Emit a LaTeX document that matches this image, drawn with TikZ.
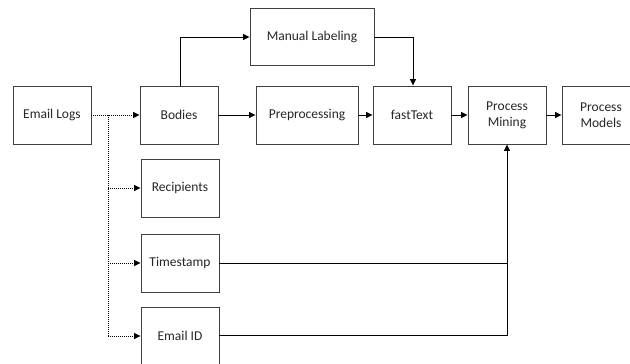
\documentclass[tikz,border=0pt]{standalone}
\usepackage{fontspec}
\setmainfont{Carlito}
\usetikzlibrary{arrows.meta}
\begin{document}
\begin{tikzpicture}[x=1pt,y=-1pt,
  box/.style={draw=black!75, line width=0.9pt, minimum width=78pt, minimum height=58pt, inner sep=1pt, align=center, font=\fontsize{13.5}{16}\selectfont, text=black!85},
  conn/.style={line width=0.9pt, -{Triangle[length=6.5pt,width=6pt]}},
  dotconn/.style={conn, dash pattern=on 1pt off 1pt},
  plain/.style={line width=0.9pt}]
\useasboundingbox (0,0) rectangle (630,364);
\begin{scope}
\clip (0,0) rectangle (630,364);
\node[box] (logs) at (52,115) {Email Logs};
\node[box] (bodies) at (179,115) {Bodies};
\node[box, minimum width=124pt, minimum height=57pt] (manual) at (312,37) {Manual Labeling};
\node[box, minimum width=102pt] (pre) at (307,115) {Preprocessing};
\node[box] (fast) at (412,115) {fastText};
\node[box] (mining) at (507,115) {Process\\Mining};
\node[box] (models) at (601,115) {Process\\Models};
\node[box] (recip) at (180,188) {Recipients};
\node[box] (time) at (180,263) {Timestamp};
\node[box] (eid) at (180,336) {Email ID};
\coordinate (branch) at (108,115);
\coordinate (branchb) at (108,336);
\coordinate (mlup) at (180,37);
\coordinate (mldown) at (413,37);
\coordinate (join) at (507,263);
\coordinate (joinb) at (507,335);
\end{scope}
\draw[dotconn] (logs.east) -- (bodies.west);
\draw[dash pattern=on 1pt off 1pt, line width=0.9pt] (branch) -- (branchb);
\draw[dotconn] (branch |- recip) -- (recip.west);
\draw[dotconn] (branch |- time) -- (time.west);
\draw[dotconn] (branchb) -- (eid.west);
\draw[conn] (bodies.north -| mlup) -- (mlup) -- (manual.west);
\draw[conn] (manual.east) -- (mldown) -- (fast.north -| mldown);
\draw[conn] (bodies.east) -- (pre.west);
\draw[conn] (pre.east) -- (fast.west);
\draw[conn] (fast.east) -- (mining.west);
\draw[conn] (mining.east) -- (models.west);
\draw[plain] (eid.east |- joinb) -- (joinb) -- (join);
\draw[conn] (time.east) -- (join) -- (mining.south);
\end{tikzpicture}
\end{document}
